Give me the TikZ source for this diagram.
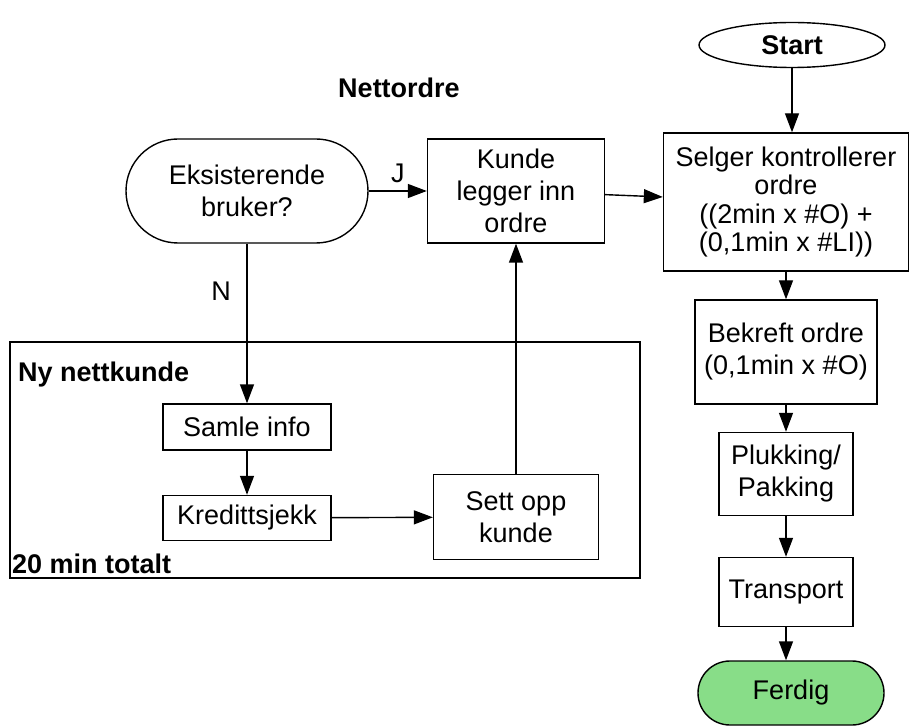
\documentclass[tikz,border=0pt]{standalone}
\usepackage{fontspec}
\setmainfont{Liberation Sans}
\usetikzlibrary{arrows.meta,shapes.geometric}

\begin{document}
\begin{tikzpicture}[x=1pt,y=-1pt,line width=1.4pt,
    font=\fontsize{27}{32}\selectfont,
    box/.style={rectangle,draw,align=center,inner sep=0pt},
    boldtext/.style={font=\fontsize{27}{32}\selectfont\bfseries}]
\useasboundingbox (0,0) rectangle (910,727);

% group frame
\node[box,minimum width=630,minimum height=236] (group) at (325,460) {};
\node[anchor=west,boldtext] (grouptitle) at (14,375) {Ny nettkunde};
\node[anchor=west,boldtext] (grouptime) at (8,564) {20 min totalt};
\node[boldtext] (nettlabel) at (399,88) {Nettordre};

\begin{scope}[every node/.style={box}]
    \node[ellipse,minimum width=186,minimum height=45,boldtext] (start) at (792,45) {Start};
    \node[rounded corners=52,minimum width=242,minimum height=104] (exist) at (247,191) {Eksisterende\\bruker?};
    \node[minimum width=177,minimum height=104] (kunde) at (516,191) {Kunde\\legger inn\\ordre};
    \node[minimum width=245,minimum height=138,font=\fontsize{27}{28.5}\selectfont] (selger) at (786,202) {Selger kontrollerer\\ordre\\((2min x \#O) +\\(0,1min x \#LI))};
    \node[minimum width=182,minimum height=104] (bekreft) at (786,352) {Bekreft ordre\\(0,1min x \#O)};
    \node[minimum width=134,minimum height=83] (pluk) at (786,474) {Plukking/\\Pakking};
    \node[minimum width=134,minimum height=69] (transp) at (786,592) {Transport};
    \node[rounded corners=32,minimum width=186,minimum height=64,fill={rgb,255:red,136;green,221;blue,136}] (ferdig) at (791,693) {Ferdig};
    \node[minimum width=168,minimum height=46] (samle) at (247,427) {Samle info};
    \node[minimum width=168,minimum height=45] (kreditt) at (247,518) {Kredittsjekk};
    \node[minimum width=165,minimum height=85] (sett) at (516,517) {Sett opp\\kunde};
\end{scope}

\begin{scope}[>={Triangle[length=19pt,width=14pt]}]
    \path [->] (start.south) edge (start.south |- selger.north);
    \path [->] (exist) edge node[above=4pt] {J} (kunde);
    \path [->] (kunde) edge (selger);
    \path [->] (exist) edge node[pos=0.3,left=12pt] {N} (samle);
    \path [->] (samle) edge (kreditt);
    \path [->] (kreditt) edge (sett);
    \path [->] (sett) edge (kunde);
    \path [->] (selger) edge (bekreft);
    \path [->] (bekreft) edge (pluk);
    \path [->] (pluk) edge (transp);
    \path [->] (transp.south) edge (transp.south |- ferdig.north);
\end{scope}
\end{tikzpicture}
\end{document}
